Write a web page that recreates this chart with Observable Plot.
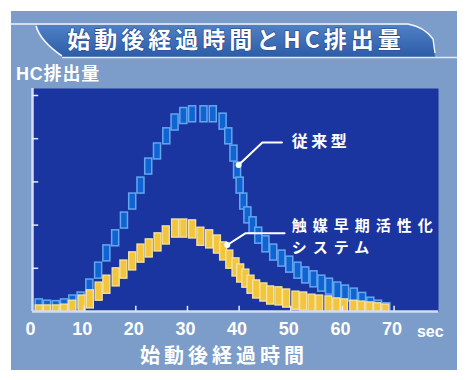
<!DOCTYPE html>
<html><head><meta charset="utf-8">
<script src="https://cdn.jsdelivr.net/npm/d3@7"></script>
<script src="https://cdn.jsdelivr.net/npm/@observablehq/plot@0.6"></script>
<style>
html,body{margin:0;padding:0;background:#fff;}
#wrap{position:relative;width:468px;height:380px;overflow:hidden;}
#panel{position:absolute;left:11px;top:11px;width:446px;height:359px;background:#7c9cc9;}
#chart{position:absolute;left:0;top:0;}
#ov{position:absolute;left:0;top:0;}
</style></head>
<body>
<div id="wrap">
  <div id="panel"></div>
  <div id="chart"></div>
  <svg id="ov" width="468" height="380">
    <defs>
      <linearGradient id="bg" x1="0" y1="0" x2="0" y2="1">
        <stop offset="0" stop-color="#4f80c4"/>
        <stop offset="1" stop-color="#2d5ca8"/>
      </linearGradient>
    </defs>
    <path d="M37,25 L408,25 C420,27 428,33 433,40 L435,57 L62,57 C50,47 40,37 37,25 Z" fill="url(#bg)"/>
    <path d="M11,24 L408,24 C420,26 428,32 433,39 L435,53" fill="none" stroke="#eef3fc" stroke-width="1.4"/>
    <path d="M36,26 C39,37 49,47 62,56" fill="none" stroke="#eef3fc" stroke-width="1.6"/>
    <line x1="62" y1="57.5" x2="457" y2="57.5" stroke="#e2e9f8" stroke-width="1.3"/>
    <text x="236" y="48" text-anchor="middle" fill="#fff" font-size="23" font-weight="700" letter-spacing="4" style="font-family:'Noto Sans CJK JP','Liberation Sans',sans-serif;paint-order:stroke;" stroke="#234a90" stroke-width="1.2">始動後経過時間とHC排出量</text>
    <text x="16" y="80" fill="#fff" font-size="18" font-weight="700" letter-spacing="0.8" style="font-family:'Liberation Sans','Noto Sans CJK JP',sans-serif;">HC排出量</text>
    <text x="224" y="363" text-anchor="middle" fill="#fff" font-size="20" font-weight="700" letter-spacing="4" style="font-family:'Noto Sans CJK JP','Liberation Sans',sans-serif;">始動後経過時間</text>
  </svg>
</div>
<script>
// Time (sec) of each bar glyph, and HC level (top of bar)
const blueT = [1.3, 2.9, 4.6, 6.2, 7.8, 9.4, 11.1, 12.8, 14.4, 16.1, 17.8, 19.4, 21.0, 22.5, 24.2, 26.0, 27.6, 29.3, 31.0, 33.2, 35.0, 36.9, 38.0, 39.0, 39.7, 40.2, 40.9, 41.7, 42.7, 43.8, 45.2, 46.7, 48.3, 49.8, 51.4, 52.9, 54.5, 56.0, 57.5, 59.1, 60.6, 62.3, 63.9, 65.5, 67.0, 68.6];
const blueV = [0.28, 0.25, 0.24, 0.28, 0.37, 0.44, 0.74, 1.13, 1.53, 1.88, 2.29, 2.73, 3.10, 3.54, 3.89, 4.24, 4.56, 4.71, 4.75, 4.75, 4.75, 4.58, 4.24, 3.84, 3.45, 3.10, 2.73, 2.41, 2.18, 1.94, 1.74, 1.55, 1.41, 1.27, 1.13, 1.02, 0.93, 0.83, 0.76, 0.67, 0.60, 0.53, 0.43, 0.32, 0.25, 0.19];
const yellowT = [1.3, 2.9, 4.6, 6.2, 7.8, 9.6, 11.2, 12.9, 14.4, 16.2, 17.7, 19.4, 21.0, 22.6, 24.3, 25.9, 27.7, 29.3, 31.0, 32.6, 34.3, 35.8, 37.0, 38.2, 39.4, 40.3, 41.3, 42.3, 43.4, 44.8, 46.1, 47.7, 49.2, 51.0, 52.5, 54.1, 55.6, 57.4, 58.9, 60.4, 62.2, 63.7, 65.3, 66.8, 68.4];
const yellowV = [0.14, 0.14, 0.14, 0.16, 0.25, 0.37, 0.49, 0.67, 0.83, 1.00, 1.18, 1.37, 1.55, 1.67, 1.81, 1.97, 2.13, 2.13, 2.11, 1.94, 1.88, 1.76, 1.60, 1.41, 1.23, 1.09, 0.97, 0.83, 0.72, 0.65, 0.58, 0.56, 0.51, 0.46, 0.44, 0.39, 0.37, 0.35, 0.30, 0.28, 0.25, 0.23, 0.21, 0.19, 0.16];

const xTickLabels = [0, 10, 20, 30, 40, 50, 60, 70];
const xTickMarks = [10, 20, 30, 40, 50, 60, 70];
const yTickMarks = [1, 2, 3, 4, 5];
const unitLabel = ["sec"];

const convName = ["従来型"];
const catName = ["触媒早期活性化\nシステム"];
const leaderConv = [{t: 39.9, v: 3.39}, {t: 44.5, v: 3.91}, {t: 48.3, v: 3.91}];
const leaderCat = [{t: 37.7, v: 1.54}, {t: 41.2, v: 1.81}, {t: 48.8, v: 1.81}];
const convLabelPos = {t: 50.2, v: 3.92};
const catLabelPos = {t: 50.2, v: 1.78};

const blue = blueT.map((t, i) => ({t, v: blueV[i]}));
const yellow = yellowT.map((t, i) => ({t, v: yellowV[i]}));
const convLabel = convName.map(s => ({name: s, ...convLabelPos}));
const catLabel = catName.map(s => ({name: s, ...catLabelPos}));
const dots = [leaderConv[0], leaderCat[0]];

const halfW = 0.68, hBlue = 0.37, hYellow = 0.42;
const cjk = "'Noto Sans CJK JP',sans-serif";

const chart = Plot.plot({
  width: 468, height: 380,
  marginLeft: 32, marginRight: 30, marginTop: 88, marginBottom: 69,
  x: {domain: [0, 78.6]},
  y: {domain: [0, 5.162], axis: null},
  style: {background: "transparent", fontFamily: "'Liberation Sans','Noto Sans CJK JP',sans-serif", overflow: "visible"},
  marks: [
    Plot.frame({fill: "#1b35a0", stroke: null}),
    Plot.rect(blue, {x1: d => d.t - halfW, x2: d => d.t + halfW, y1: d => d.v - hBlue, y2: d => d.v,
      fill: "#0f64d2", stroke: "#64a6f0", strokeWidth: 1.5, clip: true}),
    Plot.rect(yellow, {x1: d => d.t - halfW, x2: d => d.t + halfW, y1: d => d.v - hYellow, y2: d => d.v,
      fill: "#f3c53a", stroke: "#f4e3a4", strokeWidth: 1.3, clip: true}),
    Plot.ruleX([0], {stroke: "#d3dcf2", strokeWidth: 2.5}),
    Plot.ruleY([0], {stroke: "#d3dcf2", strokeWidth: 2.5}),
    Plot.ruleY(yTickMarks, {x1: 0, x2: 1.2, stroke: "#e4eaf8", strokeWidth: 1.5}),
    Plot.ruleX(xTickMarks, {y1: 0, y2: 0.12, stroke: "#e4eaf8", strokeWidth: 1.5}),
    Plot.axisX({ticks: xTickLabels, tickSize: 0, tickPadding: 11, fontSize: 18, fontWeight: "bold",
      fill: "white", label: null, dx: -2}),
    Plot.text(unitLabel, {x: 77, y: 0, dy: 20, text: d => d, fill: "white", fontSize: 16, fontWeight: "bold",
      textAnchor: "middle", lineAnchor: "middle"}),
    Plot.line(leaderConv, {x: "t", y: "v", stroke: "white", strokeWidth: 2}),
    Plot.line(leaderCat, {x: "t", y: "v", stroke: "white", strokeWidth: 2}),
    Plot.dot(dots, {x: "t", y: "v", r: 3, fill: "white", stroke: null}),
    Plot.text(convLabel, {x: "t", y: "v", text: "name", fill: "white", fontSize: 16, fontWeight: "bold",
      textAnchor: "start", lineAnchor: "middle", fontFamily: cjk}),
    Plot.text(catLabel, {x: "t", y: "v", text: "name", fill: "white", fontSize: 15, fontWeight: "bold",
      textAnchor: "start", lineAnchor: "middle", lineHeight: 1.467, fontFamily: cjk})
  ]
});
document.getElementById("chart").appendChild(chart);
d3.select(chart).selectAll("text").each(function() {
  const s = this.textContent;
  if (s.includes("従来型")) this.style.letterSpacing = "3.5px";
  else if (s.includes("触媒")) this.style.letterSpacing = "6px";
});
</script>
</body></html>
